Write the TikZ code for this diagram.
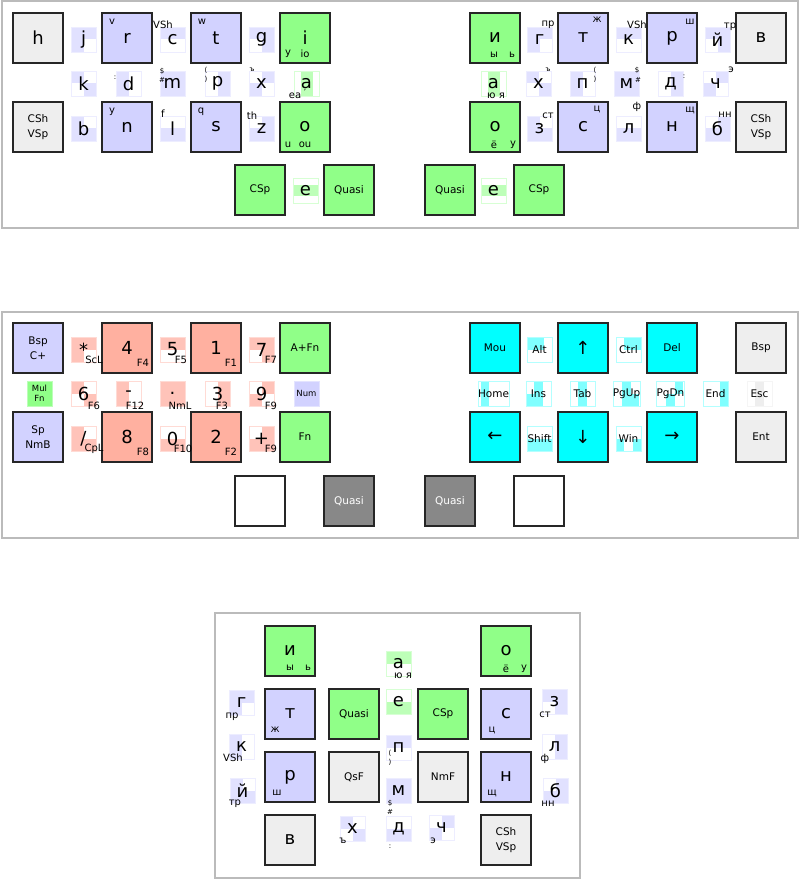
\documentclass[tikz,border=0pt]{standalone}
\usepackage{fontspec}
\setmainfont{DejaVu Sans}
\definecolor{lav}{HTML}{D2D2FF}
\definecolor{lavl}{HTML}{E1E1FF}
\definecolor{grn}{HTML}{90FF88}
\definecolor{grnl}{HTML}{BDFFB8}
\definecolor{sal}{HTML}{FFB0A0}
\definecolor{sall}{HTML}{FFC3B9}
\definecolor{cyn}{HTML}{00FFFF}
\definecolor{cynl}{HTML}{80FFFF}
\definecolor{gry}{HTML}{EEEEEE}
\definecolor{dgry}{HTML}{888888}
\definecolor{frame}{HTML}{BBBBBB}
\tikzset{
  key/.style={draw=black!85, line width=1.3pt, minimum size=50pt, inner sep=0pt, align=center, font=\fontsize{18}{18}\selectfont},
  wkey/.style={key, font=\fontsize{10.5}{15}\selectfont},
  combo/.style={line width=0.4pt, minimum size=25pt, inner sep=0pt, align=center, font=\fontsize{18}{18}\selectfont},
  wcombo/.style={font=\fontsize{10.5}{12}\selectfont},
  lbl/.style={inner sep=0pt, font=\fontsize{10}{10}\selectfont},
  tinylbl/.style={inner sep=0pt, font=\fontsize{7}{7}\selectfont},
  panel/.style={draw=frame, line width=2pt},
}
% big key: name, x, y, style, text
\newcommand\bkey[5]{\node[#4] (#1) at ({#2+25},{#3+25}) {#5};}
% combo key: [style], name, x, y, colour, shaded cells (sixths), text
\newcommand\ckey[7][]{%
  \foreach \pa/\pb/\pc/\pd in {#6}
    {\fill[#5] ({#3+\pa*25/6},{#4+\pb*25/6}) rectangle ({#3+\pc*25/6},{#4+\pd*25/6});}
  \node[combo, draw=#5!60, #1] (#2) at ({#3+12.5},{#4+12.5}) {#7};}

\begin{document}
\begin{tikzpicture}[x=1pt, y=-1pt]
  \useasboundingbox (0,0) rectangle (800,880);

  % frames
  \draw[panel] (1.5,1.5) rectangle (797.5,227.5);
  \draw[panel] (1.5,311.5) rectangle (797.5,537.5);
  \draw[panel] (215,613) rectangle (579.5,877.5);

  % base layer, left half
  \bkey{h}{13}{13}{key,fill=gry}{h}
  \bkey{r}{102}{13}{key,fill=lav}{r}
  \bkey{t}{191}{13}{key,fill=lav}{t}
  \bkey{i}{280}{13}{key,fill=grn}{i}
  \bkey{cshl}{13}{102}{wkey,fill=gry}{CSh\\VSp}
  \bkey{n}{102}{102}{key,fill=lav}{n}
  \bkey{s}{191}{102}{key,fill=lav}{s}
  \bkey{o}{280}{102}{key,fill=grn}{o}
  \ckey{j}{71}{27}{lavl}{0/0/6/3,0/3/3/6}{j}
  \ckey{c}{160}{27}{lavl}{0/0/6/3}{c}
  \ckey{g}{249}{27}{lavl}{0/0/6/3,3/3/6/6}{g}
  \ckey{k}{71}{71}{lavl}{0/0/3/3,3/3/6/6}{k}
  \ckey{d}{116}{71}{lavl}{0/0/3/6}{d}
  \ckey{m}{160}{71}{lavl}{0/0/6/6}{m}
  \ckey{p}{205}{71}{lavl}{3/0/6/6}{p}
  \ckey{x}{249}{71}{lavl}{3/0/6/3,0/3/3/6}{x}
  \ckey{a}{294}{71}{grnl}{1.6/0/4.5/6}{a}
  \ckey{b}{71}{116}{lavl}{0/0/3/6,3/3/6/6}{b}
  \ckey{l}{160}{116}{lavl}{0/3/6/6}{l}
  \ckey{z}{249}{116}{lavl}{3/0/6/6,0/3/3/6}{z}
  \node[lbl] (r-v) at (112,22) {v};
  \node[lbl] (c-vsh) at (163,25) {VSh};
  \node[lbl] (t-w) at (202,22) {w};
  \node[lbl] (i-y) at (288,54) {y};
  \node[lbl] (i-io) at (305,54) {io};
  \node[tinylbl] (d-col) at (115,78) {:};
  \node[tinylbl] (m-dol) at (162,71) {\$};
  \node[tinylbl] (m-hash) at (162,80) {\#};
  \node[tinylbl] (p-op) at (206,70) {(};
  \node[tinylbl] (p-cl) at (206,79) {)};
  \node[tinylbl] (x-hard) at (252,70) {ъ};
  \node[lbl] (a-ea) at (295,96) {ea};
  \node[tinylbl] (a-tick) at (305,92) {'};
  \node[lbl] (n-y) at (112,112) {y};
  \node[lbl] (l-f) at (163,114) {f};
  \node[lbl] (s-q) at (201,112) {q};
  \node[lbl] (z-th) at (252,116) {th};
  \node[lbl] (o-u) at (288,145) {u};
  \node[lbl] (o-ou) at (305,145) {ou};

  % base layer, right half
  \bkey{ri}{470}{13}{key,fill=grn}{и}
  \bkey{rt}{558}{13}{key,fill=lav}{т}
  \bkey{rr}{647}{13}{key,fill=lav}{р}
  \bkey{rv}{736}{13}{key,fill=gry}{в}
  \bkey{ro}{470}{102}{key,fill=grn}{о}
  \bkey{rs}{558}{102}{key,fill=lav}{с}
  \bkey{rn}{647}{102}{key,fill=lav}{н}
  \bkey{cshr}{736}{102}{wkey,fill=gry}{CSh\\VSp}
  \ckey{rg}{527}{27}{lavl}{0/0/6/3,0/3/3/6}{г}
  \ckey{rk}{616}{27}{lavl}{0/0/6/3}{к}
  \ckey{rj}{705}{27}{lavl}{0/0/6/3,3/3/6/6}{й}
  \ckey{ra}{481}{71}{grnl}{1.6/0/4.5/6}{а}
  \ckey{rh}{526}{71}{lavl}{0/0/3/3,3/3/6/6}{х}
  \ckey{rp}{570}{71}{lavl}{0/0/3/6}{п}
  \ckey{rm}{614}{71}{lavl}{0/0/6/6}{м}
  \ckey{rd}{658}{71}{lavl}{3/0/6/6}{д}
  \ckey{rch}{703}{71}{lavl}{3/0/6/3,0/3/3/6}{ч}
  \ckey{rz}{527}{116}{lavl}{0/0/3/6,3/3/6/6}{з}
  \ckey{rl}{616}{116}{lavl}{0/3/6/6}{л}
  \ckey{rb}{705}{116}{lavl}{3/0/6/6,0/3/3/6}{б}
  \node[lbl] (ri-y) at (494,55) {ы};
  \node[lbl] (ri-soft) at (512,55) {ь};
  \node[lbl] (rg-pr) at (548,25) {пр};
  \node[lbl] (rt-zh) at (597,20) {ж};
  \node[lbl] (rk-vsh) at (637,25) {VSh};
  \node[lbl] (rr-sh) at (690,22) {ш};
  \node[lbl] (rj-tr) at (730,27) {тр};
  \node[lbl] (ra-ju) at (496,96) {ю я};
  \node[tinylbl] (rh-hard) at (548,70) {ъ};
  \node[tinylbl] (rp-op) at (595,70) {(};
  \node[tinylbl] (rp-cl) at (595,79) {)};
  \node[tinylbl] (rm-dol) at (637,70) {\$};
  \node[tinylbl] (rm-hash) at (638,80) {\#};
  \node[tinylbl] (rd-col) at (684,77) {:};
  \node[lbl] (rch-e) at (731,70) {э};
  \node[lbl] (ro-yo) at (494,145) {ё};
  \node[lbl] (ro-u) at (513,145) {у};
  \node[lbl] (rz-st) at (548,116) {ст};
  \node[lbl] (rs-ts) at (597,109) {ц};
  \node[lbl] (rl-f) at (637,107) {ф};
  \node[lbl] (rn-shch) at (690,110) {щ};
  \node[lbl] (rb-nn) at (725,115) {нн};

  % base layer, thumbs
  \bkey{tcspl}{235}{165}{wkey,fill=grn}{CSp}
  \ckey{te}{293}{178}{grnl}{0/1.6/6/4.4}{e}
  \bkey{tqsl}{324}{165}{wkey,fill=grn}{Quasi}
  \bkey{tqsr}{425}{165}{wkey,fill=grn}{Quasi}
  \ckey{tre}{481}{178}{grnl}{0/1.6/6/4.4}{e}
  \bkey{tcspr}{514}{165}{wkey,fill=grn}{CSp}

  % number layer, left half
  \bkey{bspc}{13}{323}{wkey,fill=lav}{Bsp\\C+}
  \bkey{n4}{102}{323}{key,fill=sal}{4}
  \bkey{n1}{191}{323}{key,fill=sal}{1}
  \bkey{afn}{280}{323}{wkey,fill=grn}{A+Fn}
  \bkey{spnmb}{13}{412}{wkey,fill=lav}{Sp\\NmB}
  \bkey{n8}{102}{412}{key,fill=sal}{8}
  \bkey{n2}{191}{412}{key,fill=sal}{2}
  \bkey{fn}{280}{412}{wkey,fill=grn}{Fn}
  \ckey{nstar}{71}{337}{sall}{0/0/6/3,0/3/3/6}{*}
  \ckey{n5}{160}{337}{sall}{0/0/6/3}{5}
  \ckey{n7}{249}{337}{sall}{0/0/6/3,3/3/6/6}{7}
  \ckey[font=\fontsize{8.5}{10}\selectfont]{mulfn}{27}{381}{grn}{0/0/6/6}{Mul\\Fn}
  \ckey{n6}{71}{381}{sall}{0/0/3/3,3/3/6/6}{6}
  \ckey{nminus}{116}{381}{sall}{0/0/3/6}{-}
  \ckey{ndot}{160}{381}{sall}{0/0/6/6}{.}
  \ckey{n3}{205}{381}{sall}{3/0/6/6}{3}
  \ckey{n9}{249}{381}{sall}{3/0/6/3,0/3/3/6}{9}
  \ckey[font=\fontsize{8.5}{10}\selectfont]{num}{294}{381}{lav}{0/0/6/6}{Num}
  \ckey{nslash}{71}{426}{sall}{0/0/3/6,3/3/6/6}{/}
  \ckey{n0}{160}{426}{sall}{0/3/6/6}{0}
  \ckey{nplus}{249}{426}{sall}{3/0/6/6,0/3/3/6}{+}
  \node[lbl] (star-scl) at (94,360) {ScL};
  \node[lbl] (n4-f) at (143,363) {F4};
  \node[lbl] (n5-f) at (181,360) {F5};
  \node[lbl] (n1-f) at (231,363) {F1};
  \node[lbl] (n7-f) at (271,360) {F7};
  \node[lbl] (n6-f) at (94,406) {F6};
  \node[lbl] (minus-f) at (135,406) {F12};
  \node[lbl] (dot-nml) at (180,406) {NmL};
  \node[lbl] (n3-f) at (222,406) {F3};
  \node[lbl] (n9-f) at (271,406) {F9};
  \node[lbl] (slash-cpl) at (94,449) {CpL};
  \node[lbl] (n8-f) at (143,452) {F8};
  \node[lbl] (n0-f) at (183,449) {F10};
  \node[lbl] (n2-f) at (231,452) {F2};
  \node[lbl] (plus-f) at (271,449) {F9};

  % navigation, right half
  \bkey{mou}{470}{323}{wkey,fill=cyn}{Mou}
  \bkey{up}{558}{323}{key,fill=cyn}{↑}
  \bkey{del}{647}{323}{wkey,fill=cyn}{Del}
  \bkey{bsp}{736}{323}{wkey,fill=gry}{Bsp}
  \bkey{left}{470}{412}{key,fill=cyn}{←}
  \bkey{down}{558}{412}{key,fill=cyn}{↓}
  \bkey{right}{647}{412}{key,fill=cyn}{→}
  \bkey{ent}{736}{412}{wkey,fill=gry}{Ent}
  \ckey[wcombo]{alt}{527}{337}{cynl}{0/0/4/3}{Alt}
  \ckey[wcombo]{ctrl}{616}{337}{cynl}{2/0/6/3}{Ctrl}
  \ckey[wcombo]{home}{481}{381}{cynl}{0/0/2/6}{Home}
  \ckey[wcombo]{ins}{526}{381}{cynl}{2/0/4/6,0/3/2/6}{Ins}
  \ckey[wcombo]{tab}{570}{381}{cynl}{2/0/4/6}{Tab}
  \ckey[wcombo]{pgup}{614}{381}{cynl}{2/0/4/6,4/3/6/6}{PgUp}
  \ckey[wcombo]{pgdn}{658}{381}{cynl}{2/3/4/6,4/0/6/3}{PgDn}
  \ckey[wcombo]{end}{703}{381}{cynl}{4/0/6/6}{End}
  \ckey[wcombo]{esc}{747}{381}{gry}{2/0/4/6}{Esc}
  \ckey[wcombo]{shift}{527}{426}{cynl}{0/3/6/6}{Shift}
  \ckey[wcombo]{win}{616}{426}{cynl}{0/3/2/6,4/3/6/6}{Win}

  % number layer, thumbs
  \bkey{tbl}{235}{476}{key,fill=white}{}
  \bkey{tql}{324}{476}{wkey,fill=dgry,text=white}{Quasi}
  \bkey{tqr}{425}{476}{wkey,fill=dgry,text=white}{Quasi}
  \bkey{tbr}{514}{476}{key,fill=white}{}

  % one-hand cyrillic block
  \bkey{oi}{265}{626}{key,fill=grn}{и}
  \bkey{oo}{481}{626}{key,fill=grn}{о}
  \bkey{ot}{265}{689}{key,fill=lav}{т}
  \bkey{oq}{329}{689}{wkey,fill=grn}{Quasi}
  \bkey{ocsp}{418}{689}{wkey,fill=grn}{CSp}
  \bkey{os}{481}{689}{key,fill=lav}{с}
  \bkey{or}{265}{752}{key,fill=lav}{р}
  \bkey{oqsf}{329}{752}{wkey,fill=gry}{QsF}
  \bkey{onmf}{418}{752}{wkey,fill=gry}{NmF}
  \bkey{on}{481}{752}{key,fill=lav}{н}
  \bkey{ov}{265}{815}{key,fill=gry}{в}
  \bkey{ocsh}{481}{815}{wkey,fill=gry}{CSh\\VSp}
  \ckey{oa}{386}{651}{grnl}{0/0/6/3}{а}
  \ckey{oe}{386}{689}{grnl}{0/3/6/6}{е}
  \ckey{og}{229}{690}{lavl}{0/0/6/3,0/3/3/6}{г}
  \ckey{ok}{229}{734}{lavl}{0/0/3/6}{к}
  \ckey{oj}{230}{778}{lavl}{0/0/3/6,3/3/6/6}{й}
  \ckey{op}{386}{735}{lavl}{0/0/6/3}{п}
  \ckey{om}{386}{778}{lavl}{0/0/6/6}{м}
  \ckey{oh}{340}{816}{lavl}{0/0/3/3,3/3/6/6}{х}
  \ckey{od}{386}{816}{lavl}{0/3/6/6}{д}
  \ckey{och}{429}{815}{lavl}{3/0/6/3,0/3/3/6}{ч}
  \ckey{oz}{542}{689}{lavl}{3/0/6/6,0/0/3/3}{з}
  \ckey{ol}{542}{734}{lavl}{3/0/6/6}{л}
  \ckey{ob}{543}{778}{lavl}{3/0/6/6,0/3/3/6}{б}
  \node[lbl] (oi-y) at (290,668) {ы};
  \node[lbl] (oi-soft) at (308,668) {ь};
  \node[lbl] (oo-yo) at (506,669) {ё};
  \node[lbl] (oo-u) at (524,669) {у};
  \node[lbl] (oa-ju) at (403,676) {ю я};
  \node[lbl] (og-pr) at (232,717) {пр};
  \node[lbl] (ot-zh) at (275,730) {ж};
  \node[lbl] (os-ts) at (492,730) {ц};
  \node[lbl] (oz-st) at (545,715) {ст};
  \node[lbl] (ok-vsh) at (233,758) {VSh};
  \node[tinylbl] (op-op) at (390,753) {(};
  \node[tinylbl] (op-cl) at (390,762) {)};
  \node[lbl] (ol-f) at (545,759) {ф};
  \node[lbl] (or-sh) at (277,793) {ш};
  \node[lbl] (on-shch) at (492,793) {щ};
  \node[lbl] (oj-tr) at (235,804) {тр};
  \node[tinylbl] (om-dol) at (390,803) {\$};
  \node[tinylbl] (om-hash) at (390,812) {\#};
  \node[lbl] (ob-nn) at (548,804) {нн};
  \node[lbl] (oh-hard) at (343,841) {ъ};
  \node[tinylbl] (od-col) at (390,847) {:};
  \node[lbl] (och-e) at (433,841) {э};
\end{tikzpicture}
\end{document}
